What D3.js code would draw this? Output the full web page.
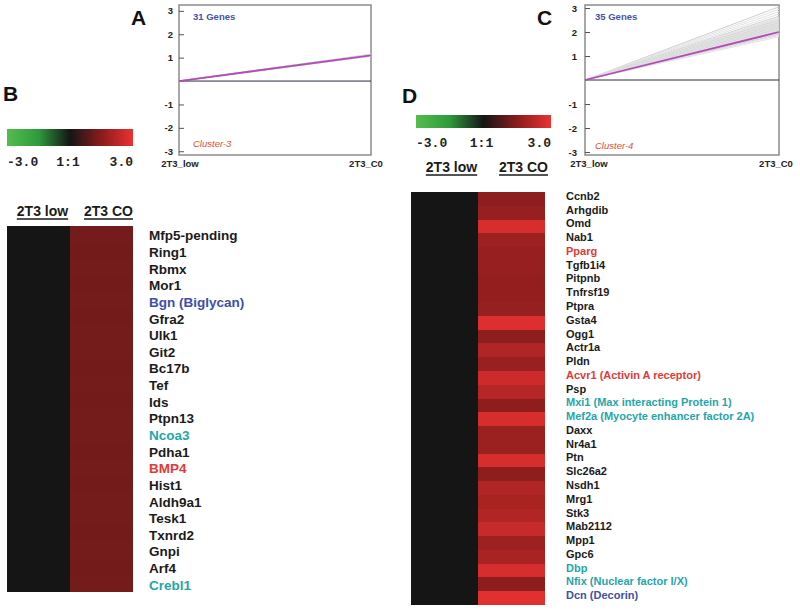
<!DOCTYPE html>
<html><head><meta charset="utf-8">
<script src="https://cdn.jsdelivr.net/npm/d3@7"></script>
<style>body{margin:0;background:#fff}svg{display:block}</style>
</head><body>
<svg id="chart" width="800" height="611"></svg>
<script>
// ---------- DATA ----------
const timepoints = ["2T3_low", "2T3_C0"];
const yTickValues = [3, 2, 1, -1, -2, -3];

// Cluster-3 (panel A): end values (start at 0 for 2T3_low)
const clusterAGeneEnds = [1.06,1.07,1.08,1.08,1.09,1.09,1.09,1.10,1.10,1.10,1.10,1.10,1.11,1.11,1.11,1.11,1.12,1.12,1.12,1.12,1.13,1.13,1.13,1.14,1.14,1.08,1.09,1.11,1.12,1.10,1.15];
const clusterAMean = [0, 1.1];
const clusterALabel = "31 Genes";
const clusterAName = "Cluster-3";

// Cluster-4 (panel C)
const clusterCGeneEnds = [3.05,2.95,2.85,2.75,2.66,2.60,2.56,2.52,2.49,2.46,2.43,2.40,2.38,2.35,2.33,2.30,2.28,2.26,2.24,2.22,2.20,2.18,2.16,2.14,2.12,2.10,2.08,2.06,2.03,2.00,1.97,1.94,1.90,1.86,1.80];
const clusterCMean = [0, 2.0];
const clusterCLabel = "35 Genes";
const clusterCName = "Cluster-4";

// Heatmaps
const heatColumns = ["2T3 low", "2T3 CO"];
const scaleLabels = ["-3.0", "1:1", "3.0"];

const genesB = ["Mfp5-pending","Ring1","Rbmx","Mor1","Bgn (Biglycan)","Gfra2","Ulk1","Git2","Bc17b","Tef","Ids","Ptpn13","Ncoa3","Pdha1","BMP4","Hist1","Aldh9a1","Tesk1","Txnrd2","Gnpi","Arf4","Crebl1"];
const groupsB = ["n","n","n","n","blue","n","n","n","n","n","n","n","teal","n","red","n","n","n","n","n","n","teal"];
const lowB = [0,0,0,0,0,0,0,0,0,0,0,0,0,0,0,0,0,0,0,0,0,0];
const coB = [1.22,1.21,1.22,1.21,1.22,1.21,1.22,1.22,1.21,1.22,1.21,1.22,1.22,1.21,1.22,1.21,1.22,1.22,1.21,1.22,1.21,1.22];

const genesD = ["Ccnb2","Arhgdib","Omd","Nab1","Pparg","Tgfb1i4","Pitpnb","Tnfrsf19","Ptpra","Gsta4","Ogg1","Actr1a","Pldn","Acvr1 (Activin A receptor)","Psp","Mxi1 (Max interacting Protein 1)","Mef2a (Myocyte enhancer factor 2A)","Daxx","Nr4a1","Ptn","Slc26a2","Nsdh1","Mrg1","Stk3","Mab2112","Mpp1","Gpc6","Dbp","Nfix (Nuclear factor I/X)","Dcn (Decorin)"];
const groupsD = ["n","n","n","n","red","n","n","n","n","n","n","n","n","red","n","teal","teal","n","n","n","n","n","n","n","n","n","n","teal","teal","blue"];
const lowD = [0,0,0,0,0,0,0,0,0,0,0,0,0,0,0,0,0,0,0,0,0,0,0,0,0,0,0,0,0,0];
const coD = [1.56,1.68,2.68,1.82,1.72,1.68,1.64,1.66,1.68,2.80,1.56,2.10,1.74,2.55,2.20,1.60,2.68,1.76,1.76,2.68,1.56,2.10,1.98,2.12,2.43,1.82,1.98,2.68,1.56,2.85];

// ---------- DRAW ----------
const svg = d3.select("#chart");
const SANS = "'Liberation Sans', Arial, Helvetica, sans-serif";
const MONO = "'Liberation Mono', 'Courier New', monospace";
const labelColor = {n: "#1b1b1b", blue: "#3f4ea6", teal: "#1fa6a8", red: "#e23a36"};

const heatColor = d3.scaleLinear()
  .domain([-3, -1.5, 0, 1.5, 3])
  .range(["#55bd4e", "#2e9a3c", "#151515", "#8a1c1c", "#ea3232"])
  .clamp(true);

// gradient for color bars
const defs = svg.append("defs");
const grad = defs.append("linearGradient").attr("id", "heatGrad").attr("x1", "0%").attr("x2", "100%");
d3.range(0, 1.0001, 0.05).forEach(t => {
  grad.append("stop").attr("offset", (t * 100) + "%").attr("stop-color", heatColor(-3 + 6 * t));
});

function panelLetter(txt, x, y) {
  svg.append("text").attr("x", x).attr("y", y).text(txt)
    .attr("font-family", SANS).attr("font-weight", "bold").attr("font-size", 21).attr("fill", "#111");
}

function drawCluster(cfg) {
  const g = svg.append("g");
  const x = d3.scalePoint().domain(timepoints).range([cfg.left, cfg.right]);
  const y = d3.scaleLinear().domain(cfg.yDomain).range([cfg.bottom, cfg.top]);
  g.append("rect").attr("x", cfg.left).attr("y", cfg.top)
    .attr("width", cfg.right - cfg.left).attr("height", cfg.bottom - cfg.top)
    .attr("fill", "#fff").attr("stroke", "#8c8c8c").attr("stroke-width", 1.5);
  const line = d3.line().x((d, i) => x(timepoints[i])).y(d => y(d));
  cfg.geneEnds.forEach((v, i) => {
    g.append("path").attr("d", line([0, v])).attr("fill", "none")
      .attr("stroke", i % 4 === 0 ? "#cfcfcf" : "#e2e2e2").attr("stroke-width", 1);
  });
  g.append("line").attr("x1", cfg.left).attr("x2", cfg.right).attr("y1", y(0)).attr("y2", y(0))
    .attr("stroke", "#2b2b4a").attr("stroke-width", 1);
  g.append("path").attr("d", line(cfg.mean)).attr("fill", "none")
    .attr("stroke", "#b24cb8").attr("stroke-width", 1.8);
  const ax = g.append("g").attr("transform", `translate(${cfg.left},0)`)
    .call(d3.axisLeft(y).tickValues(yTickValues).tickSize(-5).tickPadding(cfg.pad).tickFormat(d => String(d)));
  ax.select(".domain").remove();
  ax.selectAll(".tick line").attr("stroke", "#555");
  ax.selectAll("text").attr("font-family", SANS).attr("font-weight", "bold").attr("font-size", 9.5).attr("fill", "#222");
  timepoints.forEach((t, i) => {
    g.append("text").attr("x", x(t) + cfg.xLabOff[i]).attr("y", cfg.bottom + 11.5).attr("text-anchor", "middle")
      .text(t).attr("font-family", SANS).attr("font-weight", "bold").attr("font-size", 9.5).attr("fill", "#222");
  });
  g.append("text").attr("x", cfg.left + cfg.inset).attr("y", cfg.top + 15).text(cfg.label)
    .attr("font-family", SANS).attr("font-weight", "bold").attr("font-size", 9.5).attr("fill", "#4253a8");
  g.append("text").attr("x", cfg.left + cfg.inset).attr("y", cfg.nameY).text(cfg.name)
    .attr("font-family", SANS).attr("font-style", "italic").attr("font-size", 9.5).attr("fill", "#e24a36");
}

drawCluster({left: 179, right: 371, top: 5, bottom: 155, yDomain: [-3.16, 3.25], pad: 6,
  xLabOff: [1, -5], inset: 14, nameY: 147, geneEnds: clusterAGeneEnds, mean: clusterAMean,
  label: clusterALabel, name: clusterAName});
drawCluster({left: 585, right: 779, top: 5, bottom: 155, yDomain: [-3.125, 3.125], pad: 8,
  xLabOff: [4, -3], inset: 10, nameY: 149, geneEnds: clusterCGeneEnds, mean: clusterCMean,
  label: clusterCLabel, name: clusterCName});

panelLetter("A", 131, 25);
panelLetter("C", 537, 25);
panelLetter("B", 3, 101);
panelLetter("D", 402, 103);

function colorBar(x0, x1, y0, h, labY) {
  svg.append("rect").attr("x", x0).attr("y", y0).attr("width", x1 - x0).attr("height", h)
    .attr("fill", "url(#heatGrad)");
  const s = d3.scaleLinear().domain([0, 2]).range([x0, x1]);
  const anchors = ["start", "middle", "end"];
  scaleLabels.forEach((t, i) => {
    svg.append("text").attr("x", i === 1 ? s(1) - 2 : s(i)).attr("y", labY).attr("text-anchor", anchors[i])
      .text(t).attr("font-family", MONO).attr("font-weight", "bold").attr("font-size", 13).attr("fill", "#222");
  });
}
colorBar(7, 133, 129, 17, 166);
colorBar(416, 551, 115, 13, 147);

function heatmap(cfg) {
  const g = svg.append("g").attr("shape-rendering", "crispEdges");
  const x = d3.scaleBand().domain(heatColumns).range([cfg.left, cfg.right]);
  const y = d3.scaleBand().domain(cfg.genes).range([cfg.top, cfg.bottom]);
  const cols = [cfg.low, cfg.co];
  heatColumns.forEach((c, ci) => {
    g.selectAll(null).data(cfg.genes).enter().append("rect")
      .attr("x", x(c)).attr("y", d => y(d)).attr("width", x.bandwidth() + (ci === 0 ? 1 : 0))
      .attr("height", (d, i) => y.bandwidth() + (i < cfg.genes.length - 1 ? 1 : 0))
      .attr("fill", (d, i) => heatColor(cols[ci][i]));
  });
  const tg = svg.append("g");
  heatColumns.forEach((c, ci) => {
    const cx = x(c) + x.bandwidth() / 2 + cfg.headOff[ci];
    const t = tg.append("text").attr("x", cx).attr("y", cfg.headY).attr("text-anchor", "middle").text(c)
      .attr("font-family", SANS).attr("font-weight", "bold").attr("font-size", 14).attr("fill", "#1b1b1b");
    const w = t.node().getComputedTextLength();
    tg.append("line").attr("x1", cx - w / 2).attr("x2", cx + w / 2).attr("y1", cfg.headY + 3).attr("y2", cfg.headY + 3)
      .attr("stroke", "#1b1b1b").attr("stroke-width", 1.3);
  });
  tg.selectAll(null).data(cfg.genes).enter().append("text")
    .attr("x", cfg.labelX).attr("y", d => y(d) + y.bandwidth() / 2 + cfg.labDy)
    .text(d => d).attr("font-family", SANS).attr("font-weight", "bold").attr("font-size", cfg.fs)
    .attr("fill", (d, i) => labelColor[cfg.groups[i]]);
}

heatmap({left: 7, right: 133, top: 226, bottom: 592, genes: genesB, groups: groupsB, low: lowB, co: coB,
  headY: 216, headOff: [4, 7], labelX: 149, labDy: 6, fs: 13.5});
heatmap({left: 411, right: 545, top: 192, bottom: 605, genes: genesD, groups: groupsD, low: lowD, co: coD,
  headY: 172, headOff: [7, 12], labelX: 566, labDy: 1, fs: 11});
</script>
</body></html>
